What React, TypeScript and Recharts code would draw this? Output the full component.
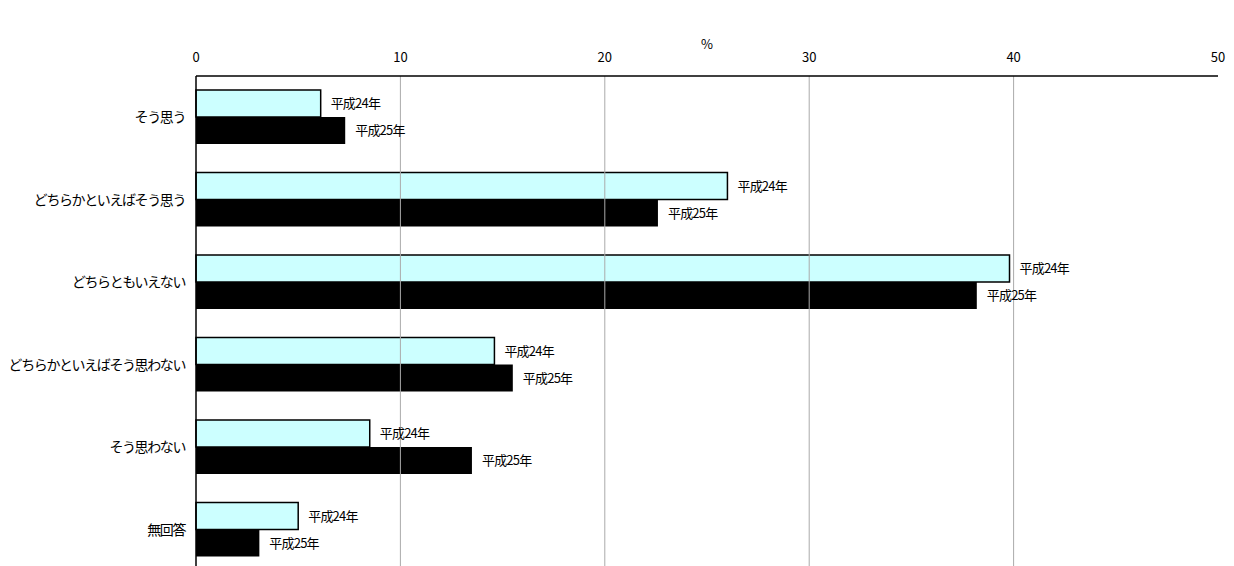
import React from "react";
import {
  BarChart,
  Bar,
  XAxis,
  YAxis,
  ReferenceLine,
  LabelList,
  Label,
} from "recharts";

const categories = [
  "そう思う",
  "どちらかといえばそう思う",
  "どちらともいえない",
  "どちらかといえばそう思わない",
  "そう思わない",
  "無回答",
];
const h24 = [6.1, 26.0, 39.8, 14.6, 8.5, 5.0];
const h25 = [7.3, 22.6, 38.2, 15.5, 13.5, 3.1];
const xTicks = [0, 10, 20, 30, 40, 50];
const gridValues = [10, 20, 30, 40];

const data = categories.map((name, i) => ({
  name,
  h24: h24[i],
  h25: h25[i],
}));

const FONT = '"Noto Sans CJK JP", "Noto Sans", sans-serif';

const App: React.FC = () => {
  return (
    <div style={{ width: 1226, height: 568, fontFamily: FONT }}>
      <BarChart
        width={1226}
        height={568}
        data={data}
        layout="vertical"
        margin={{ top: 28, right: 16, bottom: 5, left: 0 }}
        barGap={0}
        barCategoryGap="17%"
      >
        <XAxis
          type="number"
          orientation="top"
          domain={[0, 50]}
          ticks={xTicks}
          height={40}
          tickLine={false}
          tickMargin={8}
          axisLine={{ stroke: "#000", strokeWidth: 1.5 }}
          tick={{ fill: "#000", fontSize: 13, fontFamily: FONT }}
        >
          <Label
            value="%"
            position="insideTop"
            offset={4}
            style={{ fill: "#000", fontSize: 13, fontFamily: FONT }}
          />
        </XAxis>
        <YAxis
          type="category"
          dataKey="name"
          width={188}
          tickLine={false}
          tickMargin={5}
          axisLine={{ stroke: "#000", strokeWidth: 1.5 }}
          tick={{
            fill: "#000",
            fontSize: 14,
            fontFamily: FONT,
            letterSpacing: -1.4,
          }}
          interval={0}
        />
        {gridValues.map((v) => (
          <ReferenceLine key={v} x={v} stroke="#aaaaaa" strokeWidth={1} />
        ))}
        <Bar
          dataKey="h24"
          fill="#CCFFFF"
          stroke="#000"
          strokeWidth={1.5}
          isAnimationActive={false}
        >
          <LabelList
            position="right"
            offset={10}
            formatter={() => "平成24年"}
            style={{ fill: "#000", fontSize: 13, fontFamily: FONT, letterSpacing: -0.8 }}
          />
        </Bar>
        <Bar dataKey="h25" fill="#000" isAnimationActive={false}>
          <LabelList
            position="right"
            offset={10}
            formatter={() => "平成25年"}
            style={{ fill: "#000", fontSize: 13, fontFamily: FONT, letterSpacing: -0.8 }}
          />
        </Bar>
      </BarChart>
    </div>
  );
};

export default App;
